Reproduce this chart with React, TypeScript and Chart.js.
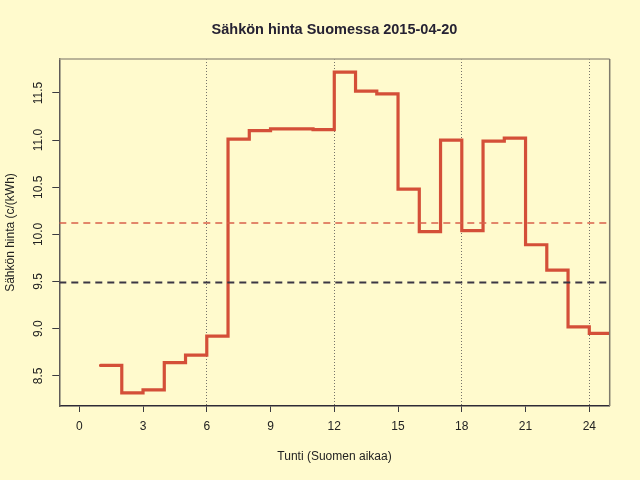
import React, { useEffect, useRef } from "react";
import { Chart, registerables } from "chart.js";

Chart.register(...registerables);

// ---- data ----
const hours = [1, 2, 3, 4, 5, 6, 7, 8, 9, 10, 11, 12, 13, 14, 15, 16, 17, 18, 19, 20, 21, 22, 23, 24];
const prices = [
  8.61, 8.32, 8.35, 8.64, 8.72, 8.92, 11.01, 11.1, 11.12, 11.12, 11.11, 11.72,
  11.52, 11.49, 10.48, 10.03, 11.0, 10.04, 10.99, 11.02, 9.89, 9.62, 9.02, 8.95,
];
const dayMean = 10.12;
const refLevel = 9.49;
const xTickValues = [0, 3, 6, 9, 12, 15, 18, 21, 24];
const yTickValues = [8.5, 9.0, 9.5, 10.0, 10.5, 11.0, 11.5];
const yTickLabels = ["8.5", "9.0", "9.5", "10.0", "10.5", "11.0", "11.5"];
const gridHours = [6, 12, 18, 24];
const titleText = "Sähkön hinta Suomessa 2015-04-20";
const xTitle = "Tunti (Suomen aikaa)";
const yTitle = "Sähkön hinta (c/(kWh)";

// axis limits
const X_MIN = -0.94;
const X_MAX = 24.96;
const Y_MIN = 8.18;
const Y_MAX = 11.86;

const BG = "#FFFACD";
const FONT = "'Liberation Sans', Arial, Helvetica, sans-serif";

const decorPlugin = {
  id: "decor",
  beforeDraw(chart: any) {
    const { ctx, width, height } = chart;
    ctx.save();
    ctx.fillStyle = BG;
    ctx.fillRect(0, 0, width, height);
    ctx.restore();
  },
  afterDraw(chart: any) {
    const { ctx, chartArea } = chart;
    const y = chart.scales.y;
    ctx.save();
    // top and right box lines
    ctx.strokeStyle = "#a39d86";
    ctx.lineWidth = 1.5;
    ctx.beginPath();
    ctx.moveTo(chartArea.left, chartArea.top);
    ctx.lineTo(chartArea.right, chartArea.top);
    ctx.stroke();
    ctx.strokeStyle = "#7e7a6c";
    ctx.beginPath();
    ctx.moveTo(chartArea.right, chartArea.top);
    ctx.lineTo(chartArea.right, chartArea.bottom);
    ctx.stroke();
    // title
    ctx.fillStyle = "#262233";
    ctx.font = `bold 14.5px ${FONT}`;
    ctx.textAlign = "center";
    ctx.textBaseline = "middle";
    ctx.fillText(titleText, (chartArea.left + chartArea.right) / 2, 30);
    // rotated y tick labels
    ctx.fillStyle = "#222";
    ctx.font = `12px ${FONT}`;
    yTickValues.forEach((v, i) => {
      const py = y.getPixelForValue(v);
      ctx.save();
      ctx.translate(38.5, py);
      ctx.rotate(-Math.PI / 2);
      ctx.fillText(yTickLabels[i], 0, 0);
      ctx.restore();
    });
    ctx.restore();
  },
};

export default function App() {
  const ref = useRef<HTMLCanvasElement | null>(null);

  useEffect(() => {
    document.body.style.margin = "0";
    document.body.style.background = BG;
    const canvas = ref.current;
    if (!canvas) return;

    const stepData = hours.map((h, i) => ({ x: h, y: prices[i] }));
    stepData.push({ x: hours[hours.length - 1] + 1, y: prices[prices.length - 1] });

    const chart = new Chart(canvas, {
      type: "line",
      data: {
        datasets: [
          {
            data: [
              { x: X_MIN, y: refLevel },
              { x: X_MAX, y: refLevel },
            ],
            borderColor: "#3b3644",
            borderWidth: 2,
            borderDash: [7, 5],
            pointRadius: 0,
            fill: false,
          },
          {
            data: [
              { x: X_MIN, y: dayMean },
              { x: X_MAX, y: dayMean },
            ],
            borderColor: "#d9604a",
            borderWidth: 1.5,
            borderDash: [7, 5],
            pointRadius: 0,
            fill: false,
          },
          {
            data: stepData,
            borderColor: "#d44f38",
            borderWidth: 3.2,
            stepped: "before",
            pointRadius: 0,
            fill: false,
            borderCapStyle: "round",
            borderJoinStyle: "miter",
          },
        ],
      },
      plugins: [decorPlugin],
      options: {
        animation: false,
        responsive: false,
        devicePixelRatio: 1,
        layout: { padding: { left: 0, top: 59, right: 30.3, bottom: 0 } },
        plugins: {
          legend: { display: false },
          title: { display: false },
          tooltip: { enabled: false },
        },
        scales: {
          x: {
            type: "linear",
            min: X_MIN,
            max: X_MAX,
            afterBuildTicks: (scale: any) => {
              scale.ticks = xTickValues.map((v) => ({ value: v }));
            },
            afterFit: (scale: any) => {
              scale.height = 480 - 406;
            },
            ticks: {
              autoSkip: false,
              maxRotation: 0,
              minRotation: 0,
              padding: 7,
              color: "#222",
              font: { family: FONT, size: 12 },
              callback: (v: any) => String(v),
            },
            grid: {
              drawOnChartArea: true,
              drawTicks: true,
              tickLength: 6,
              tickColor: "#3a3a40",
              tickWidth: 1,
              lineWidth: 1,
              color: (ctx: any) =>
                ctx.tick && gridHours.includes(ctx.tick.value) ? "#76736a" : "rgba(0,0,0,0)",
            },
            border: { display: true, color: "#2e2a36", width: 1.5, dash: [1, 2] },
            title: {
              display: true,
              text: xTitle,
              color: "#222",
              font: { family: FONT, size: 12 },
              padding: { top: 0, bottom: 15.8 },
            },
          },
          y: {
            type: "linear",
            min: Y_MIN,
            max: Y_MAX,
            afterBuildTicks: (scale: any) => {
              scale.ticks = yTickValues.map((v) => ({ value: v }));
            },
            afterFit: (scale: any) => {
              scale.width = 59.3;
            },
            ticks: { display: false },
            grid: {
              drawOnChartArea: false,
              drawTicks: true,
              tickLength: 7,
              tickColor: "#3a3a40",
              tickWidth: 1,
            },
            border: { display: true, color: "#5e5a58", width: 1.5 },
            title: {
              display: true,
              text: yTitle,
              color: "#222",
              font: { family: FONT, size: 12 },
              padding: { top: 3, bottom: 0 },
            },
          },
        },
      } as any,
    });

    return () => chart.destroy();
  }, []);

  return (
    <div style={{ width: 640, height: 480 }}>
      <canvas ref={ref} width={640} height={480} style={{ display: "block" }} />
    </div>
  );
}
